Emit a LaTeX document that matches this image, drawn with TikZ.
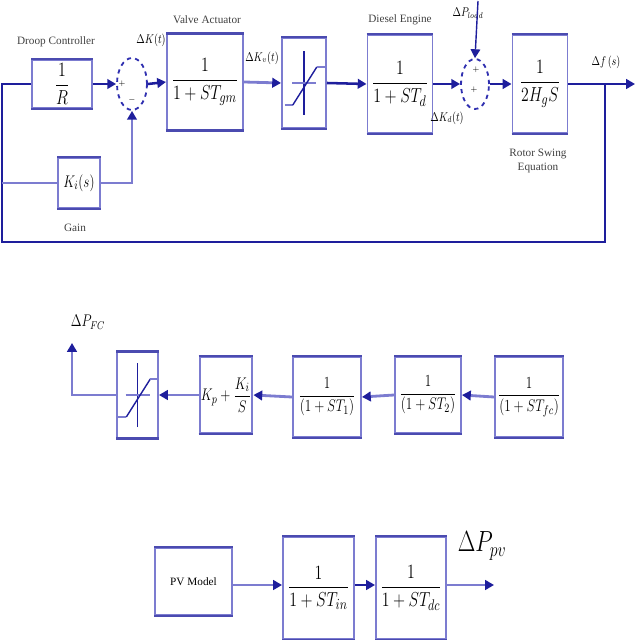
\documentclass[tikz,border=0pt]{standalone}
\usepackage{amsmath,amssymb}
\usepackage{fontspec}
\setmainfont{Liberation Serif}
\usepackage{tikz}
\usetikzlibrary{arrows.meta,positioning,shapes.geometric,calc}
\definecolor{DarkBlue}{HTML}{1E1E9C}
\definecolor{BoxBlue}{HTML}{7C7CD0}
\definecolor{SumBlue}{HTML}{3030B0}
\newcommand{\cnd}[1]{\scalebox{0.78}[1]{$\displaystyle #1$}}
\tikzset{
  blockbox/.style={draw=BoxBlue,line width=1.4pt,fill=white,inner sep=1pt,font=\fontsize{15}{17}\selectfont},
  sumnode/.style={ellipse,draw=SumBlue,dashed,line width=1.3pt,inner sep=0pt},
  wire/.style={DarkBlue,line width=1.8pt},
  lwire/.style={BoxBlue,line width=2pt},
  tip/.style={-{Triangle[length=2.2mm,width=2.4mm]}},
  ltip/.style={-{Triangle[length=2.2mm,width=2.4mm,color=DarkBlue]}},
  caption/.style={font=\fontsize{8}{9}\selectfont,text=black!75},
  siglabel/.style={font=\fontsize{9}{10}\selectfont}
}

\begin{document}
\begin{tikzpicture}[x=0.25mm,y=-0.25mm]
  \useasboundingbox (0,0) rectangle (640,640);

  % governor loop
  \node[blockbox,minimum width=15mm,minimum height=12mm] (droop) at (62,84) {\cnd{\frac{1}{R}}};
  \node[sumnode,minimum width=7.5mm,minimum height=13mm] (sumA) at (132,84) {};
  \node[blockbox,minimum width=19mm,minimum height=23.75mm] (valve) at (205,82) {\cnd{\frac{1}{1+ST_{gm}}}};
  \node[blockbox,minimum width=11mm,minimum height=22.5mm] (satA) at (304,83) {};
  \node[blockbox,minimum width=16.25mm,minimum height=24.5mm] (diesel) at (400,84) {\cnd{\frac{1}{1+ST_{d}}}};
  \node[sumnode,minimum width=7mm,minimum height=12.5mm] (sumB) at (475,84) {};
  \node[blockbox,minimum width=13.75mm,minimum height=24.5mm] (swing) at (540,84) {\cnd{\frac{1}{2H_{g}S}}};
  \node[blockbox,minimum width=10.5mm,minimum height=12.5mm,font=\fontsize{13}{15}\selectfont] (gain) at (79,183) {\cnd{K_i(s)}};

  \node[caption] (droopcap) at (56,42) {Droop Controller};
  \node[caption] (valvecap) at (207,20) {Valve Actuator};
  \node[caption] (dieselcap) at (400,20) {Diesel Engine};
  \node[caption,align=center] (swingcap) at (538,161) {Rotor Swing\\[1pt]Equation};
  \node[caption] (gaincap) at (75,228) {Gain};

  \node[siglabel] (dk) at (151,40) {\cnd{\Delta K(t)}};
  \node[siglabel] (dkv) at (262,58) {\cnd{\Delta K_v(t)}};
  \node[siglabel] (dkd) at (447,118) {\cnd{\Delta K_d(t)}};
  \node[siglabel] (dpl) at (468,13) {\cnd{\Delta P_{load}}};
  \node[siglabel] (df) at (606,62) {\cnd{\Delta f\,(s)}};
  \node[font=\tiny] at (122,84) {$+$};
  \node[font=\tiny] at (132,100) {$-$};
  \node[font=\tiny] at (476,70) {$+$};
  \node[font=\tiny] at (474,90) {$+$};

  \coordinate (loadin) at (478,1);
  \coordinate (fout) at (635,84);
  \coordinate (tap) at (605,84);
  \coordinate (fbL) at (2,242);
  \coordinate (gtap) at (2,183);

  \draw[wire,tip] (droop.east) -- (sumA.west);
  \draw[wire,tip] (sumA.east) -- (valve.west);
  \draw[lwire,ltip] (valve.east) -- (satA.west);
  \draw[wire,tip] (satA.east) -- (diesel.west);
  \draw[wire,tip] (diesel.east) -- (sumB.west);
  \draw[wire,tip] (sumB.east) -- (swing.west);
  \draw[wire,tip] (swing.east) -- (fout);
  \draw[DarkBlue,line width=1pt,tip] (loadin) -- (sumB.north);
  \draw[wire] (tap) |- (fbL) -- (fbL |- droop.west) -- (droop.west);
  \draw[lwire] (gtap) -- (gain.west);
  \draw[lwire,ltip] (gain.east) -| (sumA.south);

  % fuel cell chain
  \node[blockbox,minimum width=17mm,minimum height=20mm,font=\fontsize{13}{15}\selectfont] (fcA) at (529,397) {\cnd{\frac{1}{(1+ST_{fc})}}};
  \node[blockbox,minimum width=16.5mm,minimum height=19mm,font=\fontsize{13}{15}\selectfont] (fcB) at (428,395) {\cnd{\frac{1}{(1+ST_{2})}}};
  \node[blockbox,minimum width=17mm,minimum height=20mm,font=\fontsize{13}{15}\selectfont] (fcC) at (327,397) {\cnd{\frac{1}{(1+ST_{1})}}};
  \node[blockbox,minimum width=13mm,minimum height=19mm,font=\fontsize{13}{15}\selectfont] (pi) at (226,395) {\cnd{K_p+\frac{K_i}{S}}};
  \node[blockbox,minimum width=10.25mm,minimum height=21.25mm] (satB) at (137.5,395) {};
  \coordinate (fcout) at (72,343);
  \node[font=\fontsize{12}{14}\selectfont] (dpfc) at (88,322) {\cnd{\Delta P_{FC}}};

  \draw[lwire,ltip] (fcA.west) -- (fcB.east);
  \draw[lwire,ltip] (fcB.west) -- (fcC.east);
  \draw[lwire,ltip] (fcC.west) -- (pi.east);
  \draw[lwire,ltip] (pi.west) -- (satB.east);
  \draw[lwire,ltip] (satB.west) -| (fcout);

  % pv chain
  \node[blockbox,minimum width=19.25mm,minimum height=16.75mm,font=\fontsize{8}{9}\selectfont] (pv) at (193.5,581.5) {PV Model};
  \node[blockbox,minimum width=17.75mm,minimum height=25.5mm] (pvA) at (318.5,588) {\cnd{\frac{1}{1+ST_{in}}}};
  \node[blockbox,minimum width=17.5mm,minimum height=25.5mm] (pvB) at (411,588) {\cnd{\frac{1}{1+ST_{dc}}}};
  \coordinate (pvout) at (494,585);
  \node[font=\fontsize{20}{22}\selectfont] (dppv) at (482,546) {\cnd{\Delta P_{pv}}};

  \draw[lwire,ltip] (pv.east |- pvout) -- (pvA.west |- pvout);
  \draw[wire,tip] (pvA.east |- pvout) -- (pvB.west |- pvout);
  \draw[lwire,ltip] (pvB.east |- pvout) -- (pvout);

  % darker top and bottom edges
  \foreach \b in {droop,valve,satA,diesel,swing,gain,fcA,fcB,fcC,pi,satB,pv,pvA,pvB} {
    \draw[DarkBlue!80,line width=1.6pt] (\b.north west) -- (\b.north east);
    \draw[DarkBlue!80,line width=1.6pt] (\b.south west) -- (\b.south east);
  }

  % saturation curves
  \foreach \s in {satA,satB} {
    \draw[DarkBlue,line width=1pt] ($(\s.center)+(0,-8mm)$) -- ($(\s.center)+(0,8mm)$);
    \draw[BoxBlue,line width=1.4pt] ($(\s.center)+(-3mm,0)$) -- ($(\s.center)+(3mm,0)$);
    \draw[BoxBlue,line width=1.4pt] ($(\s.center)+(-4.8mm,-5.5mm)$) -- ++(2mm,0);
    \draw[DarkBlue,line width=1pt] ($(\s.center)+(-2.8mm,-5.5mm)$) -- ++(6mm,9.5mm);
    \draw[BoxBlue,line width=1.4pt] ($(\s.center)+(3.2mm,4mm)$) -- ++(2mm,0);
  }
\end{tikzpicture}
\end{document}
